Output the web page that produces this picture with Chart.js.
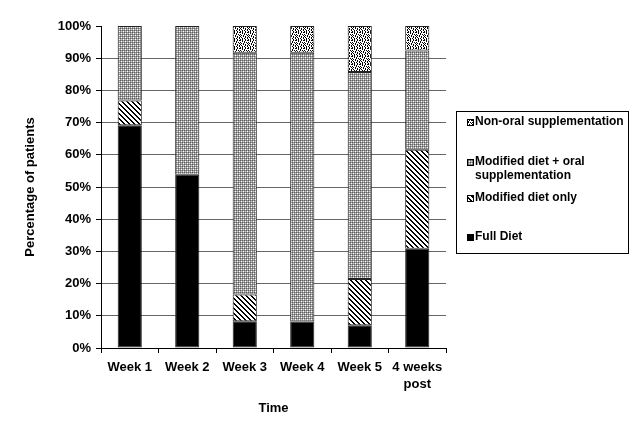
<!DOCTYPE html>
<html>
<head>
<meta charset="utf-8">
<script src="https://cdn.jsdelivr.net/npm/chart.js@4.4.0/dist/chart.umd.min.js"></script>
<style>
html,body{margin:0;padding:0;background:#fff;}
#wrap{width:640px;height:439px;}
</style>
</head>
<body>
<div id="wrap"><canvas id="c" width="640" height="439"></canvas></div>
<script>
const categories = ['Week 1', 'Week 2', 'Week 3', 'Week 4', 'Week 5', ['4 weeks', 'post']];
const seriesNames = ['Full Diet', 'Modified diet only', 'Modified diet + oral supplementation', 'Non-oral supplementation'];
const fullDiet = [69.2, 53.8, 8.3, 8.2, 7.1, 30.8];
const modifiedOnly = [7.7, 0, 8.3, 0, 14.3, 30.8];
const modifiedOral = [23.1, 46.2, 75.1, 83.5, 64.3, 30.8];
const nonOral = [0, 0, 8.3, 8.3, 14.3, 7.6];
const yTicks = [0, 10, 20, 30, 40, 50, 60, 70, 80, 90, 100];

const FONT = '"Liberation Sans", Arial, sans-serif';

function tile(rows, colors) {
  const h = rows.length, w = rows[0].length;
  const c = document.createElement('canvas');
  c.width = w; c.height = h;
  const x = c.getContext('2d');
  for (let j = 0; j < h; j++) for (let i = 0; i < w; i++) {
    x.fillStyle = colors[rows[j][i]];
    x.fillRect(i, j, 1, 1);
  }
  return x.createPattern(c, 'repeat');
}
const stripeRows = [];
for (let j = 0; j < 5; j++) { let r = ''; for (let i = 0; i < 5; i++) r += (((i - j) % 5 + 5) % 5) < 2 ? 'B' : 'W'; stripeRows.push(r); }
const patStripe = tile(stripeRows, {B:'#000', W:'#fff'});
const patGray = tile([
  'DGDG',
  'GWGL',
  'DGDG',
  'GLGW'
], {G:'#9a9a9a', D:'#5e5e5e', W:'#ffffff', L:'#d0d0d0'});
const patDots = tile([
  'B.B..B.B',
  '..B.B...',
  'B...B.B.',
  '.B.B...B',
  'B..B.B..',
  '.B...B.B',
  '..B.B..B',
  'B.B..B..'
], {B:'#000', '.':'#fff'});
const fills = ['#000', patStripe, patGray, patDots];
const values = [fullDiet, modifiedOnly, modifiedOral, nonOral];

const legendPlugin = {
  id: 'boxLegend',
  afterDraw(chart) {
    const ctx = chart.ctx;
    const left = chart.chartArea.right + 10, top = 111, w = 172, h = 142;
    ctx.save();
    ctx.strokeStyle = '#000'; ctx.lineWidth = 1;
    ctx.strokeRect(left + 0.5, top + 0.5, w, h);
    ctx.font = 'bold 12px ' + FONT;
    ctx.textBaseline = 'middle';
    ctx.fillStyle = '#000';
    const items = [
      {i: 3, lines: ['Non-oral supplementation'], y: 122},
      {i: 2, lines: ['Modified diet + oral', 'supplementation'], y: 162},
      {i: 1, lines: ['Modified diet only'], y: 198},
      {i: 0, lines: ['Full Diet'], y: 237}
    ];
    items.forEach(it => {
      const sx = left + 11, sy = it.y - 3;
      ctx.fillStyle = fills[it.i];
      ctx.fillRect(sx, sy, 7, 7);
      ctx.strokeStyle = '#000';
      ctx.strokeRect(sx + 0.5, sy + 0.5, 6, 6);
      ctx.fillStyle = '#000';
      it.lines.forEach((ln, k) => ctx.fillText(ln, left + 19, it.y + k * 14));
    });
    ctx.restore();
  }
};

new Chart(document.getElementById('c'), {
  type: 'bar',
  data: {
    labels: categories,
    datasets: seriesNames.map((name, i) => ({
      label: name,
      data: values[i],
      backgroundColor: fills[i],
      borderColor: '#222',
      borderWidth: 1,
      borderSkipped: false,
      barPercentage: 0.42,
      categoryPercentage: 1
    }))
  },
  options: {
    responsive: false,
    animation: false,
    layout: {padding: {top: 26, right: 194, bottom: 0, left: 0}},
    plugins: {legend: {display: false}, tooltip: {enabled: false}},
    scales: {
      x: {
        stacked: true,
        afterFit(s) { s.height = 91; },
        border: {color: '#000', width: 1},
        grid: {offset: true, drawOnChartArea: false, tickColor: '#000', tickLength: 5},
        ticks: {color: '#000', padding: 6, maxRotation: 0, font: {family: FONT, size: 13, weight: 'bold', lineHeight: 1.3}},
        title: {display: true, text: 'Time', color: '#000', padding: {top: 0, bottom: 23}, font: {family: FONT, size: 13, weight: 'bold'}}
      },
      y: {
        stacked: true,
        min: 0, max: 100,
        afterFit(s) { s.width = 101; },
        afterBuildTicks(s) { s.ticks = yTicks.map(v => ({value: v})); },
        border: {color: '#000', width: 1},
        grid: {
          color: c => (c.tick && (c.tick.value === 100 || c.tick.value === 0)) ? 'rgba(0,0,0,0)' : '#666',
          tickColor: '#000', tickLength: 5
        },
        ticks: {color: '#000', padding: 5, callback: v => v + '%', font: {family: FONT, size: 13, weight: 'bold'}},
        title: {display: true, text: 'Percentage of patients', color: '#000', padding: {top: 23, bottom: 0}, font: {family: FONT, size: 13, weight: 'bold'}}
      }
    }
  },
  plugins: [legendPlugin]
});
</script>
</body>
</html>
